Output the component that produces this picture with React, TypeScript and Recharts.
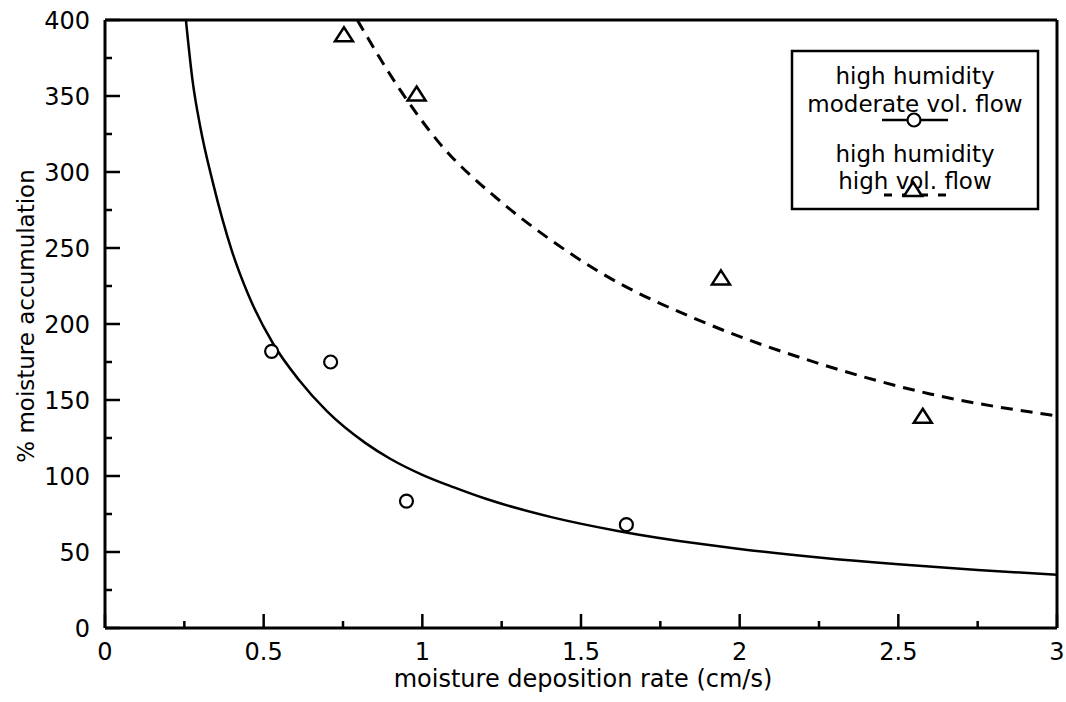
import React from "react";
import {
  ComposedChart,
  Line,
  Scatter,
  XAxis,
  YAxis,
  ReferenceLine,
} from "recharts";

// fitted curve, moderate volume flow (solid)
const moderateFitX = [0.255, 0.276, 0.3, 0.34, 0.4, 0.45, 0.53, 0.61, 0.7, 0.82, 0.9, 1.0, 1.1, 1.2, 1.41, 1.62, 1.88, 2.0, 2.25, 2.5, 2.75, 3.0];
const moderateFitY = [400, 360, 330, 293, 248, 220, 187, 163.5, 142.5, 121.8, 111.2, 100.8, 92.5, 85, 72.8, 63.7, 55.2, 52, 46.4, 41.9, 38.2, 35];

// fitted curve, high volume flow (dashed)
const highFitX = [0.795, 0.93, 1.05, 1.25, 1.4, 1.56, 1.9, 2.25, 2.6, 3.0];
const highFitY = [400, 354, 320, 280, 256, 234, 200, 174, 154, 139.5];

// measured points
const moderateX = [0.525, 0.711, 0.95, 1.643];
const moderateY = [182, 175, 83.5, 68];
const highX = [0.753, 0.982, 1.941, 2.577];
const highY = [390, 351, 230, 139];

const xTicks = [0, 0.25, 0.5, 0.75, 1, 1.25, 1.5, 1.75, 2, 2.25, 2.5, 2.75, 3];
const xLabelled = [0, 0.5, 1, 1.5, 2, 2.5, 3];
const yTicks = [0, 25, 50, 75, 100, 125, 150, 175, 200, 225, 250, 275, 300, 325, 350, 375, 400];
const yLabelled = [0, 50, 100, 150, 200, 250, 300, 350, 400];

const legendLines = ["high humidity", "moderate vol. flow", "high humidity", "high vol. flow"];

const zip = (xs: number[], ys: number[]) => xs.map((x, i) => ({ x, y: ys[i] }));

const moderateFit = zip(moderateFitX, moderateFitY);
const highFit = zip(highFitX, highFitY);
const moderatePts = zip(moderateX, moderateY);
const highPts = zip(highX, highY);

const FONT = '"DejaVu Sans", "Liberation Sans", Arial, sans-serif';

const XTick = (props: any) => {
  const { x, y, payload } = props;
  const major = xLabelled.includes(payload.value);
  return (
    <g>
      <line x1={x} y1={y} x2={x} y2={y - (major ? 14 : 7)} stroke="#000" strokeWidth={2.5} />
      {major && (
        <text x={x} y={y + 32} textAnchor="middle" fontSize={24} fontFamily={FONT} fill="#000">
          {String(payload.value)}
        </text>
      )}
    </g>
  );
};

const YTick = (props: any) => {
  const { x, y, payload } = props;
  const major = yLabelled.includes(payload.value);
  return (
    <g>
      <line x1={x} y1={y} x2={x + (major ? 15 : 7)} y2={y} stroke="#000" strokeWidth={2.5} />
      {major && (
        <text x={x - 15} y={y + 9} textAnchor="end" fontSize={24} fontFamily={FONT} fill="#000">
          {String(payload.value)}
        </text>
      )}
    </g>
  );
};

const Circle = (props: any) => (
  <circle cx={props.cx} cy={props.cy} r={6.5} fill="#fff" stroke="#000" strokeWidth={2.2} />
);

const Triangle = (props: any) => {
  const { cx, cy } = props;
  return (
    <path
      d={`M${cx},${cy - 8} L${cx + 9},${cy + 6} L${cx - 9},${cy + 6} Z`}
      fill="#fff"
      stroke="#000"
      strokeWidth={2.5}
    />
  );
};

export default function App() {
  return (
    <div style={{ position: "absolute", left: 0, top: 0, width: 1066, height: 702, background: "#fff" }}>
      <ComposedChart
        width={1066}
        height={702}
        margin={{ top: 20, right: 9, bottom: 34, left: 35 }}
      >
        <XAxis
          dataKey="x"
          type="number"
          domain={[0, 3]}
          ticks={xTicks}
          interval={0}
          height={40}
          tickSize={0}
          tickMargin={0}
          tickLine={false}
          tick={<XTick />}
          axisLine={{ stroke: "#000", strokeWidth: 3 }}
          allowDataOverflow
        />
        <YAxis
          type="number"
          domain={[0, 400]}
          ticks={yTicks}
          interval={0}
          width={70}
          tickSize={0}
          tickMargin={0}
          tickLine={false}
          tick={<YTick />}
          axisLine={{ stroke: "#000", strokeWidth: 3 }}
          allowDataOverflow
        />
        <ReferenceLine y={400} stroke="#000" strokeWidth={3} />
        <ReferenceLine x={3} stroke="#000" strokeWidth={3} />
        <Line
          data={moderateFit}
          dataKey="y"
          type="monotone"
          stroke="#000"
          strokeWidth={2.5}
          dot={false}
          activeDot={false}
          isAnimationActive={false}
        />
        <Line
          data={highFit}
          dataKey="y"
          type="monotone"
          stroke="#000"
          strokeWidth={3}
          strokeDasharray="12 8"
          dot={false}
          activeDot={false}
          isAnimationActive={false}
        />
        <Scatter data={moderatePts} dataKey="y" shape={<Circle />} isAnimationActive={false} />
        <Scatter data={highPts} dataKey="y" shape={<Triangle />} isAnimationActive={false} />
      </ComposedChart>

      <svg
        width={1066}
        height={702}
        style={{ position: "absolute", left: 0, top: 0, pointerEvents: "none" }}
      >
        <text x={583} y={687} textAnchor="middle" fontSize={24} fontFamily={FONT} fill="#000">
          moisture deposition rate (cm/s)
        </text>
        <text
          transform="translate(34,316) rotate(-90)"
          textAnchor="middle"
          fontSize={23}
          fontFamily={FONT}
          fill="#000"
        >
          % moisture accumulation
        </text>

        <rect x={792} y={51} width={246} height={158} fill="#fff" stroke="#000" strokeWidth={2.5} />
        {legendLines.map((t, i) => (
          <text
            key={i}
            x={915}
            y={[84, 112, 162, 189][i]}
            textAnchor="middle"
            fontSize={23}
            fontFamily={FONT}
            fill="#000"
          >
            {t}
          </text>
        ))}
        <line x1={882} y1={120} x2={948} y2={120} stroke="#000" strokeWidth={2.5} />
        <Circle cx={914} cy={120} />
        <line x1={884} y1={195} x2={948} y2={195} stroke="#000" strokeWidth={3} strokeDasharray="8 10" />
        <Triangle cx={913} cy={190} />
      </svg>
    </div>
  );
}
